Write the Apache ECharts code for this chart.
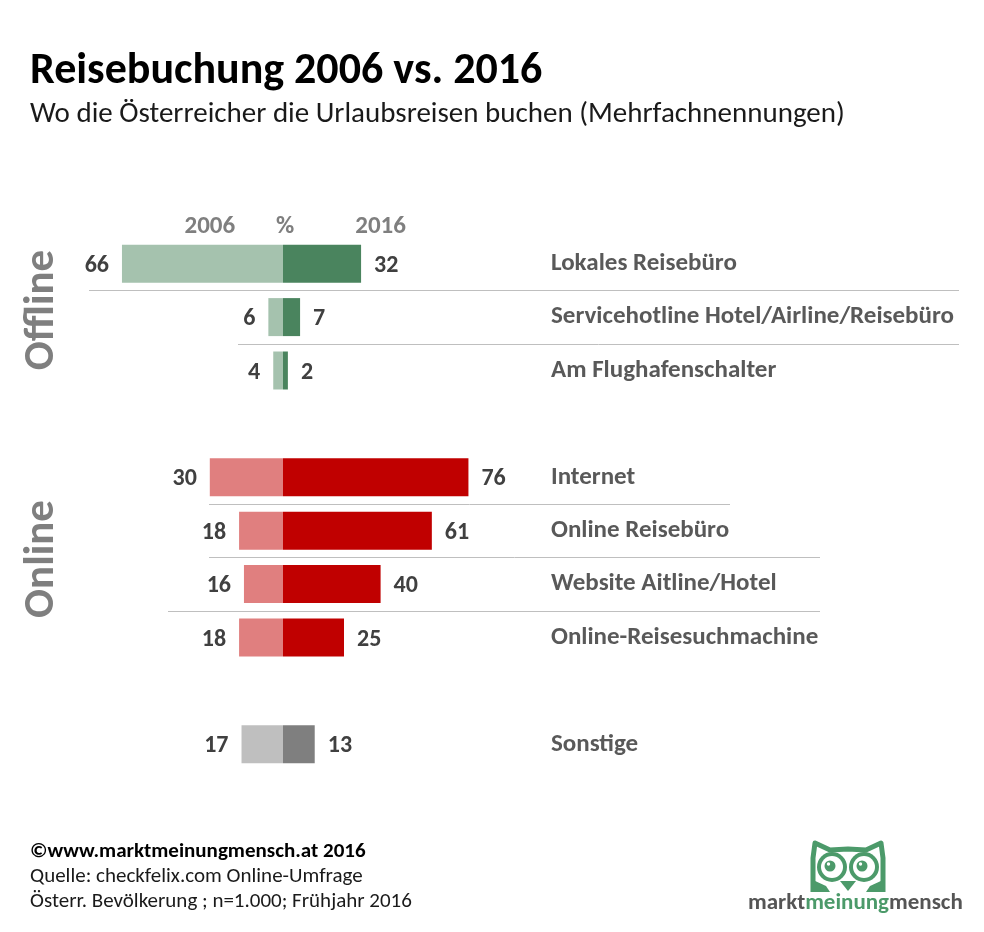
<!DOCTYPE html>
<html>
<head>
    <meta charset="utf-8">
    <title>Reisebuchung 2006 vs. 2016</title>
    <script src="https://cdn.jsdelivr.net/npm/echarts@6/dist/echarts.min.js"></script>
</head>
<style>
    *{
        margin: 0;
        padding: 0;
    }
    #main{
        width: 984px;
        height: 932px;
        background: #fff;
    }
</style>
<body>
<div id="main"></div>
<script>
    // Kategorien (leere Einträge = Abstand zwischen den Gruppen)
    let categories = ['Lokales Reisebüro', 'Servicehotline Hotel/Airline/Reisebüro', 'Am Flughafenschalter', ' ',
        'Internet', 'Online Reisebüro', 'Website Aitline/Hotel', 'Online-Reisesuchmachine', '  ', 'Sonstige'];
    let groups = ['offline', 'offline', 'offline', null, 'online', 'online', 'online', 'online', null, 'other'];
    let values2006 = [66, 6, 4, null, 30, 18, 16, 18, null, 17];
    let values2016 = [32, 7, 2, null, 76, 61, 40, 25, null, 13];

    let colors2006 = {offline: '#a5c2ae', online: '#e07f7f', other: '#bfbfbf'};
    let colors2016 = {offline: '#4a845e', online: '#c00000', other: '#7f7f7f'};

    const FONT = 'Carlito, Lato, sans-serif';

    let chart = echarts.init(document.getElementById('main'));

    let labelStyle = {
        show: true,
        color: '#404040',
        fontSize: 24,
        fontWeight: 'bold',
        fontFamily: FONT,
        distance: 13,
        offset: [0, 2]
    };

    let option = {
        backgroundColor: '#fff',
        animation: false,
        grid: {
            left: 39,
            width: 488,
            top: 237,
            height: 534
        },
        xAxis: {
            type: 'value',
            min: -100,
            max: 100,
            show: false
        },
        yAxis: {
            type: 'category',
            inverse: true,
            position: 'right',
            data: categories,
            axisLine: {show: false},
            axisTick: {show: false},
            splitLine: {show: false},
            axisLabel: {
                margin: 24,
                align: 'left',
                color: '#595959',
                fontSize: 25,
                fontWeight: 'bold',
                fontFamily: FONT,
                padding: [4, 0, 0, 0]
            }
        },
        series: [
            {
                name: '2006',
                type: 'bar',
                stack: 'a',
                barWidth: 38,
                data: values2006.map((v, i) => v == null ? null : {
                    value: -v,
                    itemStyle: {color: colors2006[groups[i]]}
                }),
                label: Object.assign({}, labelStyle, {
                    position: 'left',
                    formatter: p => Math.abs(p.value)
                })
            },
            {
                name: '2016',
                type: 'bar',
                stack: 'a',
                barWidth: 38,
                data: values2016.map((v, i) => v == null ? null : {
                    value: v,
                    itemStyle: {color: colors2016[groups[i]]}
                }),
                label: Object.assign({}, labelStyle, {
                    position: 'right'
                })
            }
        ]
    };
    chart.setOption(option);

    // Trennlinien zwischen den Zeilen (x-Bereich in Pixel, y aus der Achse)
    let separators = [
        {after: 0, x1: 89, x2: 959},
        {after: 1, x1: 238, x2: 959},
        {after: 4, x1: 209, x2: 730},
        {after: 5, x1: 209, x2: 820},
        {after: 6, x1: 168, x2: 820}
    ];
    let midY = i => (chart.convertToPixel({yAxisIndex: 0}, i) + chart.convertToPixel({yAxisIndex: 0}, i + 1)) / 2;
    let centerX = chart.convertToPixel({xAxisIndex: 0}, 0);
    let headerY = chart.convertToPixel({yAxisIndex: 0}, 0) - 37;

    let graphic = [];
    separators.forEach(s => {
        let y = Math.round(midY(s.after)) + 0.5;
        graphic.push({
            type: 'line',
            shape: {x1: s.x1, y1: y, x2: s.x2, y2: y},
            style: {stroke: '#bfbfbf', lineWidth: 1}
        });
    });

    // Kopfzeile 2006 / % / 2016
    [['2006', chart.convertToPixel({xAxisIndex: 0}, -30)], ['%', centerX + 2], ['2016', chart.convertToPixel({xAxisIndex: 0}, 40)]]
        .forEach(h => graphic.push({
            type: 'text',
            x: h[1], y: headerY,
            style: {text: h[0], fill: '#7f7f7f', font: 'bold 25px ' + FONT, align: 'center', verticalAlign: 'middle'}
        }));

    // Gruppenbeschriftungen
    [['Offline', 310], ['Online', 559]].forEach(g => graphic.push({
        type: 'text',
        x: 42, y: g[1],
        rotation: Math.PI / 2,
        style: {text: g[0], fill: '#7f7f7f', font: 'bold 43px ' + FONT, align: 'center', verticalAlign: 'middle'}
    }));

    // Titel und Quellenangabe
    graphic.push(
        {type: 'text', x: 30, y: 72, style: {text: 'Reisebuchung 2006 vs. 2016', fill: '#000', font: 'bold 44px ' + FONT, verticalAlign: 'middle'}},
        {type: 'text', x: 30, y: 115, style: {text: 'Wo die Österreicher die Urlaubsreisen buchen (Mehrfachnennungen)', fill: '#1a1a1a', font: '29px ' + FONT, verticalAlign: 'middle'}},
        {type: 'text', x: 30, y: 852, style: {text: '©www.marktmeinungmensch.at 2016', fill: '#000', font: 'bold 21px ' + FONT, verticalAlign: 'middle'}},
        {type: 'text', x: 30, y: 877, style: {text: 'Quelle: checkfelix.com Online-Umfrage', fill: '#1a1a1a', font: '21px ' + FONT, verticalAlign: 'middle'}},
        {type: 'text', x: 30, y: 902, style: {text: 'Österr. Bevölkerung ; n=1.000; Frühjahr 2016', fill: '#1a1a1a', font: '21px ' + FONT, verticalAlign: 'middle'}}
    );

    // Logo
    let green = '#4c9a6a';
    graphic.push(
        {
            type: 'polyline',
            shape: {points: [[813, 892], [813, 858], [815, 843], [830, 850], [848, 849], [866, 850], [881, 843], [883, 858], [883, 892]]},
            style: {fill: '#fff', stroke: green, lineWidth: 5, lineJoin: 'round'}
        },
        {type: 'polygon', shape: {points: [[813, 880], [826, 886], [830, 892], [813, 892]]}, style: {fill: green}},
        {type: 'polygon', shape: {points: [[883, 880], [870, 886], [866, 892], [883, 892]]}, style: {fill: green}},
        {type: 'circle', shape: {cx: 832, cy: 867, r: 15}, style: {fill: green}},
        {type: 'circle', shape: {cx: 864, cy: 867, r: 15}, style: {fill: green}},
        {type: 'circle', shape: {cx: 832, cy: 867, r: 11}, style: {fill: '#fff'}},
        {type: 'circle', shape: {cx: 864, cy: 867, r: 11}, style: {fill: '#fff'}},
        {type: 'circle', shape: {cx: 830, cy: 866, r: 5.5}, style: {fill: green}},
        {type: 'circle', shape: {cx: 862, cy: 866, r: 5.5}, style: {fill: green}},
        {type: 'circle', shape: {cx: 828.5, cy: 864, r: 1.7}, style: {fill: '#fff'}},
        {type: 'circle', shape: {cx: 860.5, cy: 864, r: 1.7}, style: {fill: '#fff'}},
        {type: 'polygon', shape: {points: [[840, 881], [856, 881], [848, 891]]}, style: {fill: green}},
        {
            type: 'text', x: 748, y: 903,
            style: {
                text: '{g|markt}{m|meinung}{g|mensch}',
                verticalAlign: 'middle',
                rich: {
                    g: {fill: '#555', font: 'bold 23px ' + FONT},
                    m: {fill: green, font: 'bold 23px ' + FONT}
                }
            }
        }
    );

    chart.setOption({graphic: graphic});
</script>
</body>
</html>
